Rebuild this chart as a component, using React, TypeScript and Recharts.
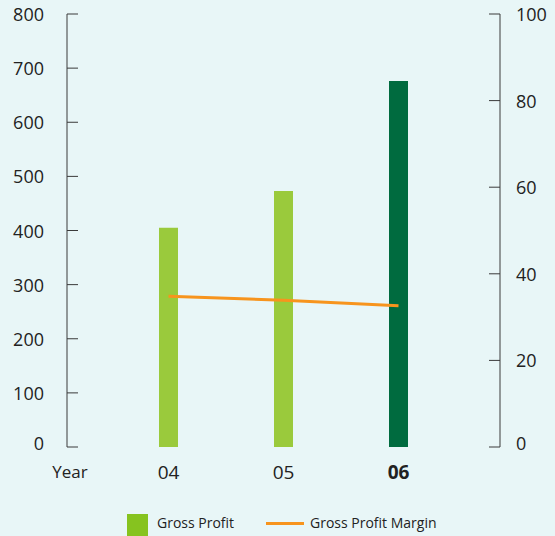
import { Bar, Cell, ComposedChart, Line, XAxis, YAxis } from 'recharts';

const years = ['04', '05', '06'];
const grossProfit = [405, 473, 676];
const grossProfitMargin = [34.8, 33.9, 32.6];
const leftTicks = [0, 100, 200, 300, 400, 500, 600, 700, 800];
const rightTicks = [0, 20, 40, 60, 80, 100];

const barColors = ['#9aca3c', '#9aca3c', '#006b3f'];
const lineColor = '#f7941d';
const axisColor = '#3a3a3a';
const textColor = '#222222';
const bg = '#e8f6f7';
const font = '"Open Sans", "Noto Sans", sans-serif';

const data = years.map((year, i) => ({
  year,
  profit: grossProfit[i],
  margin: grossProfitMargin[i],
}));

// the zero labels sit a little above the bottom tick
const labelY = (y: number, v: number) => (v === 0 ? y - 4 : y);

const LeftTick = (props: any) => {
  const { x, y, payload } = props;
  return (
    <g>
      <line x1={x} x2={x + 11} y1={y} y2={y} stroke={axisColor} strokeWidth={1} />
      <text x={x - 23} y={labelY(y, payload.value)} textAnchor="end" dominantBaseline="central" fontSize={18} fill={textColor} fontFamily={font}>
        {payload.value}
      </text>
    </g>
  );
};

const RightTick = (props: any) => {
  const { x, y, payload } = props;
  return (
    <g>
      <line x1={x - 11} x2={x} y1={y} y2={y} stroke={axisColor} strokeWidth={1} />
      <text x={x + 16} y={labelY(y, payload.value)} textAnchor="start" dominantBaseline="central" fontSize={18} fill={textColor} fontFamily={font}>
        {payload.value}
      </text>
    </g>
  );
};

const YearTick = (props: any) => {
  const { x, y, payload, index } = props;
  const last = index === years.length - 1;
  return (
    <text x={x} y={y + 23} textAnchor="middle" dominantBaseline="central" fontSize={19} fill={textColor} fontFamily={font} fontWeight={last ? 700 : 400}>
      {payload.value}
    </text>
  );
};

const YearLabel = (props: any) => {
  const { viewBox } = props;
  if (!viewBox) return null;
  return (
    <text x={viewBox.x + 3} y={viewBox.y + 24} textAnchor="middle" dominantBaseline="central" fontSize={17} fill={textColor} fontFamily={font}>
      Year
    </text>
  );
};

export default function App() {
  return (
    <div style={{ width: 555, height: 536, background: bg, position: 'relative', overflow: 'hidden' }}>
      <style>{'body{margin:0}'}</style>
      <ComposedChart width={555} height={487} data={data} margin={{ top: 14, right: 0, left: 0, bottom: 0 }}>
        <XAxis
          dataKey="year"
          height={40}
          axisLine={false}
          tickLine={false}
          tickSize={0}
          tick={<YearTick />}
          padding={{ left: 44, right: 44 }}
          label={<YearLabel />}
        />
        <YAxis
          yAxisId="left"
          orientation="left"
          width={67}
          domain={[0, 800]}
          ticks={leftTicks}
          interval={0}
          stroke={axisColor}
          tickLine={false}
          tickSize={0}
          tickMargin={0}
          tick={<LeftTick />}
        />
        <YAxis
          yAxisId="right"
          orientation="right"
          width={55}
          domain={[0, 100]}
          ticks={rightTicks}
          interval={0}
          stroke={axisColor}
          tickLine={false}
          tickSize={0}
          tickMargin={0}
          tick={<RightTick />}
        />
        <Bar yAxisId="left" dataKey="profit" barSize={19} isAnimationActive={false}>
          {data.map((d, i) => (
            <Cell key={d.year} fill={barColors[i]} />
          ))}
        </Bar>
        <Line
          yAxisId="right"
          dataKey="margin"
          stroke={lineColor}
          strokeWidth={3}
          dot={false}
          activeDot={false}
          type="linear"
          isAnimationActive={false}
        />
      </ComposedChart>
      <div style={{ position: 'absolute', top: 512, left: 0, width: 555, fontFamily: font, fontSize: 14, color: textColor }}>
        <div style={{ position: 'absolute', left: 127, top: 2, width: 21, height: 24, background: '#86c31f' }} />
        <div style={{ position: 'absolute', left: 157, top: 1, lineHeight: '20px' }}>Gross Profit</div>
        <div style={{ position: 'absolute', left: 266, top: 10, width: 38, height: 3, background: lineColor }} />
        <div style={{ position: 'absolute', left: 310, top: 1, lineHeight: '20px' }}>Gross Profit Margin</div>
      </div>
    </div>
  );
}
